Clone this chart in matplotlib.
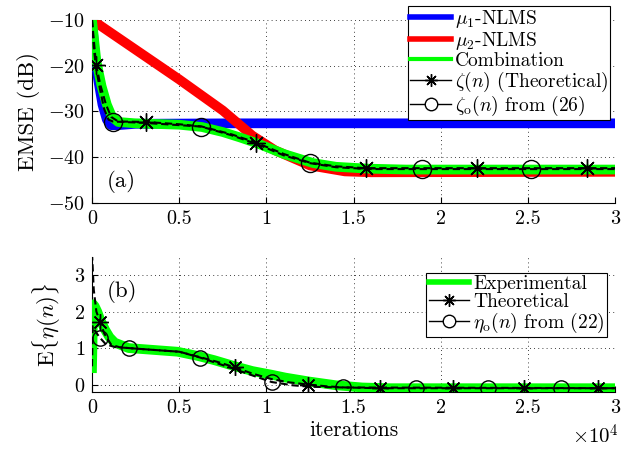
import matplotlib
matplotlib.use("Agg")
import matplotlib.pyplot as plt
from matplotlib.lines import Line2D
from matplotlib.ticker import FuncFormatter

plt.rcParams["font.family"] = "serif"
plt.rcParams["font.serif"] = ["cmr10", "DejaVu Serif"]
plt.rcParams["mathtext.fontset"] = "cm"
plt.rcParams["axes.unicode_minus"] = False
plt.rcParams["axes.formatter.use_mathtext"] = True

# ---- (a) EMSE curves, x in iterations ----
mu1_x = [0, 150, 350, 600, 850, 1100, 1500, 2500, 8000, 16000, 30000]
mu1_y = [-10, -17, -23, -28.5, -31.8, -33, -33, -32.7, -32.6, -32.6, -32.6]

mu2_x = [0, 2500, 5000, 7500, 9200, 10500, 12500, 14500, 16000, 30000]
mu2_y = [-10, -16.5, -23, -29.8, -35.3, -38.5, -41.8, -43.1, -43.3, -43.2]

comb_x = [0, 250, 550, 850, 1150, 1500, 2500, 5000, 6300, 7500, 8500, 9500,
          11000, 12700, 14000, 15800, 18000, 30000]
comb_y = [-10, -19, -24.5, -28.5, -31.2, -32.3, -32.6, -32.9, -33.4, -34.5,
          -35.7, -37, -39.3, -41.3, -42.1, -42.5, -42.7, -42.7]

zeta_x = [0, 230, 500, 800, 1100, 1500, 3100, 5000, 6300, 8000, 9400, 11000,
          12500, 14000, 15700, 30000]
zeta_y = [-10, -19.8, -24.5, -28.5, -31.2, -32.2, -32.3, -32.8, -33.3, -35,
          -36.8, -39.3, -41.2, -42, -42.4, -42.4]
zeta_mx = [230, 3100, 9400, 15700, 22100, 28400]
zeta_my = [-19.8, -32.3, -36.8, -42.4, -42.4, -42.4]

zetao_x = [0, 100, 230, 450, 700, 950, 1200, 3000, 6250, 8000, 9500, 11000,
           12500, 14000, 16000, 30000]
zetao_y = [-10, -16, -20.5, -25, -29.5, -31.8, -32.2, -32.5, -33.3, -35.2,
           -37.2, -39.6, -41.3, -42.2, -42.6, -42.6]
zetao_mx = [1200, 6250, 12500, 18900, 25200]
zetao_my = [-32.2, -33.3, -41.3, -42.6, -42.6]

# ---- (b) E{eta(n)} ----
exp_x = [0, 30, 60, 150, 300, 450, 750, 1000, 1300, 2100, 3500, 4900, 6100,
         7000, 8200, 9200, 10300, 11100, 12500, 14000, 15500, 17000, 30000]
exp_y = [0.45, 1.2, 2.2, 2.15, 2.0, 1.8, 1.5, 1.3, 1.15, 1.0, 0.95, 0.9, 0.78,
         0.67, 0.5, 0.37, 0.27, 0.19, 0.08, -0.02, -0.08, -0.1, -0.1]

theo_x = [0, 100, 250, 460, 700, 1100, 1600, 2100, 3500, 5000, 6200, 7200,
          8200, 9200, 10300, 11300, 12400, 13500, 14500, 16500, 30000]
theo_y = [3.6, 2.6, 2.0, 1.72, 1.4, 1.09, 1.02, 1.0, 0.95, 0.9, 0.75, 0.62,
          0.47, 0.3, 0.15, 0.06, 0.0, -0.05, -0.08, -0.1, -0.1]
theo_mx = [460, 8200, 12400, 16500, 20700, 24800, 29000]
theo_my = [1.72, 0.47, 0.0, -0.1, -0.1, -0.1, -0.1]

etao_x = [0, 40, 200, 460, 800, 1300, 2100, 3500, 5000, 6200, 7200, 8200,
          9200, 10300, 11500, 12500, 14400, 30000]
etao_y = [0.5, 1.6, 1.45, 1.28, 1.1, 1.03, 1.0, 0.95, 0.9, 0.74, 0.58, 0.42,
          0.25, 0.07, -0.02, -0.06, -0.08, -0.1]
etao_mx = [460, 2100, 6200, 10300, 14400, 18600, 22700, 26900]
etao_my = [1.28, 1.0, 0.74, 0.07, -0.08, -0.1, -0.1, -0.1]

BLUE = "#0000ff"
RED = "#ff0000"
GREEN = "#00ff00"
DASH = (3.5, 1.8)
STAR = (8, 2, 0)


def style_axes(ax):
    ax.spines["top"].set_visible(False)
    ax.spines["right"].set_visible(False)
    ax.tick_params(direction="in", length=4, labelsize=14.5, width=0.8, pad=5)
    ax.grid(True, color="black", linestyle=(0, (1, 4)), linewidth=0.6)
    ax.set_xlim(0, 30000)
    ax.set_xticks([0, 5000, 10000, 15000, 20000, 25000, 30000])
    ax.xaxis.set_major_formatter(FuncFormatter(lambda v, p: "%g" % (v / 1e4)))


def make_legend(ax, handles, labels, anchor):
    leg = ax.legend(handles, labels, loc="upper right", bbox_to_anchor=anchor,
                    fontsize=14, frameon=True, fancybox=False,
                    edgecolor="black", framealpha=1, borderpad=0.12,
                    labelspacing=0.0, handlelength=2.1, handletextpad=0.2,
                    borderaxespad=0)
    leg.get_frame().set_linewidth(0.8)
    leg.set_zorder(10)
    return leg


fig = plt.figure(figsize=(6.39, 4.53), dpi=100)
ax1 = fig.add_axes([0.144, 0.552, 0.8185, 0.404])
ax2 = fig.add_axes([0.144, 0.135, 0.8185, 0.298])

# top panel
ax1.plot(mu1_x, mu1_y, color=BLUE, lw=7, solid_joinstyle="round", zorder=3)
ax1.plot(mu2_x, mu2_y, color=RED, lw=7, solid_joinstyle="round", zorder=3)
ax1.plot(comb_x, comb_y, color=GREEN, lw=7, solid_joinstyle="round", zorder=3)
ax1.plot(zeta_x, zeta_y, color="black", lw=1.5, dashes=DASH, zorder=4)
ax1.plot(zetao_x, zetao_y, color="black", lw=1.5, dashes=DASH, zorder=4)
ax1.plot(zeta_mx, zeta_my, ls="none", marker=STAR, ms=13, mec="black",
         mew=1.0, zorder=5)
ax1.plot(zetao_mx, zetao_my, ls="none", marker="o", ms=13, mfc="none",
         mec="black", mew=1.0, zorder=5)

style_axes(ax1)
ax1.set_ylim(-50, -10)
ax1.set_yticks([-50, -40, -30, -20, -10])
ax1.set_ylabel("EMSE (dB)", fontsize=16.5, labelpad=6)
ax1.text(1700, -45.3, "(a)", fontsize=16.5, ha="center", va="center")

h1 = [
    Line2D([], [], color=BLUE, lw=4),
    Line2D([], [], color=RED, lw=4),
    Line2D([], [], color=GREEN, lw=3),
    Line2D([], [], color="black", lw=1.0, marker=STAR, ms=9),
    Line2D([], [], color="black", lw=1.0, marker="o", ms=9, mfc="white"),
]
l1 = [r"$\mu_1$-NLMS", r"$\mu_2$-NLMS", "Combination",
      r"$\zeta(n)$ (Theoretical)", r"$\zeta_{\rm o}(n)$ from (26)"]
make_legend(ax1, h1, l1, (0.991, 1.078))

# bottom panel
ax2.plot(exp_x, exp_y, color=GREEN, lw=7, solid_joinstyle="round", zorder=3)
ax2.plot(theo_x, theo_y, color="black", lw=1.5, dashes=DASH, zorder=4)
ax2.plot(etao_x, etao_y, color="black", lw=1.5, dashes=DASH, zorder=4)
ax2.plot(theo_mx, theo_my, ls="none", marker=STAR, ms=12, mec="black",
         mew=1.0, zorder=5)
ax2.plot(etao_mx, etao_my, ls="none", marker="o", ms=11, mfc="none",
         mec="black", mew=1.0, zorder=5)

style_axes(ax2)
ax2.set_ylim(-0.2, 3.5)
ax2.set_yticks([0, 1, 2, 3])
ax2.set_ylabel(r"$\mathrm{E}\{\eta(n)\}$", fontsize=16.5, labelpad=8)
ax2.set_xlabel("iterations", fontsize=15.5, labelpad=3)
ax2.text(1700, 2.55, "(b)", fontsize=16.5, ha="center", va="center")
fig.text(0.968, 0.038, r"$\times10^4$", fontsize=15, ha="right", va="center")

h2 = [
    Line2D([], [], color=GREEN, lw=4),
    Line2D([], [], color="black", lw=1.0, marker=STAR, ms=9),
    Line2D([], [], color="black", lw=1.0, marker="o", ms=9, mfc="white"),
]
l2 = ["Experimental", "Theoretical", r"$\eta_{\rm o}(n)$ from (22)"]
make_legend(ax2, h2, l2, (0.985, 0.882))

fig.savefig("out.png", dpi=100)
